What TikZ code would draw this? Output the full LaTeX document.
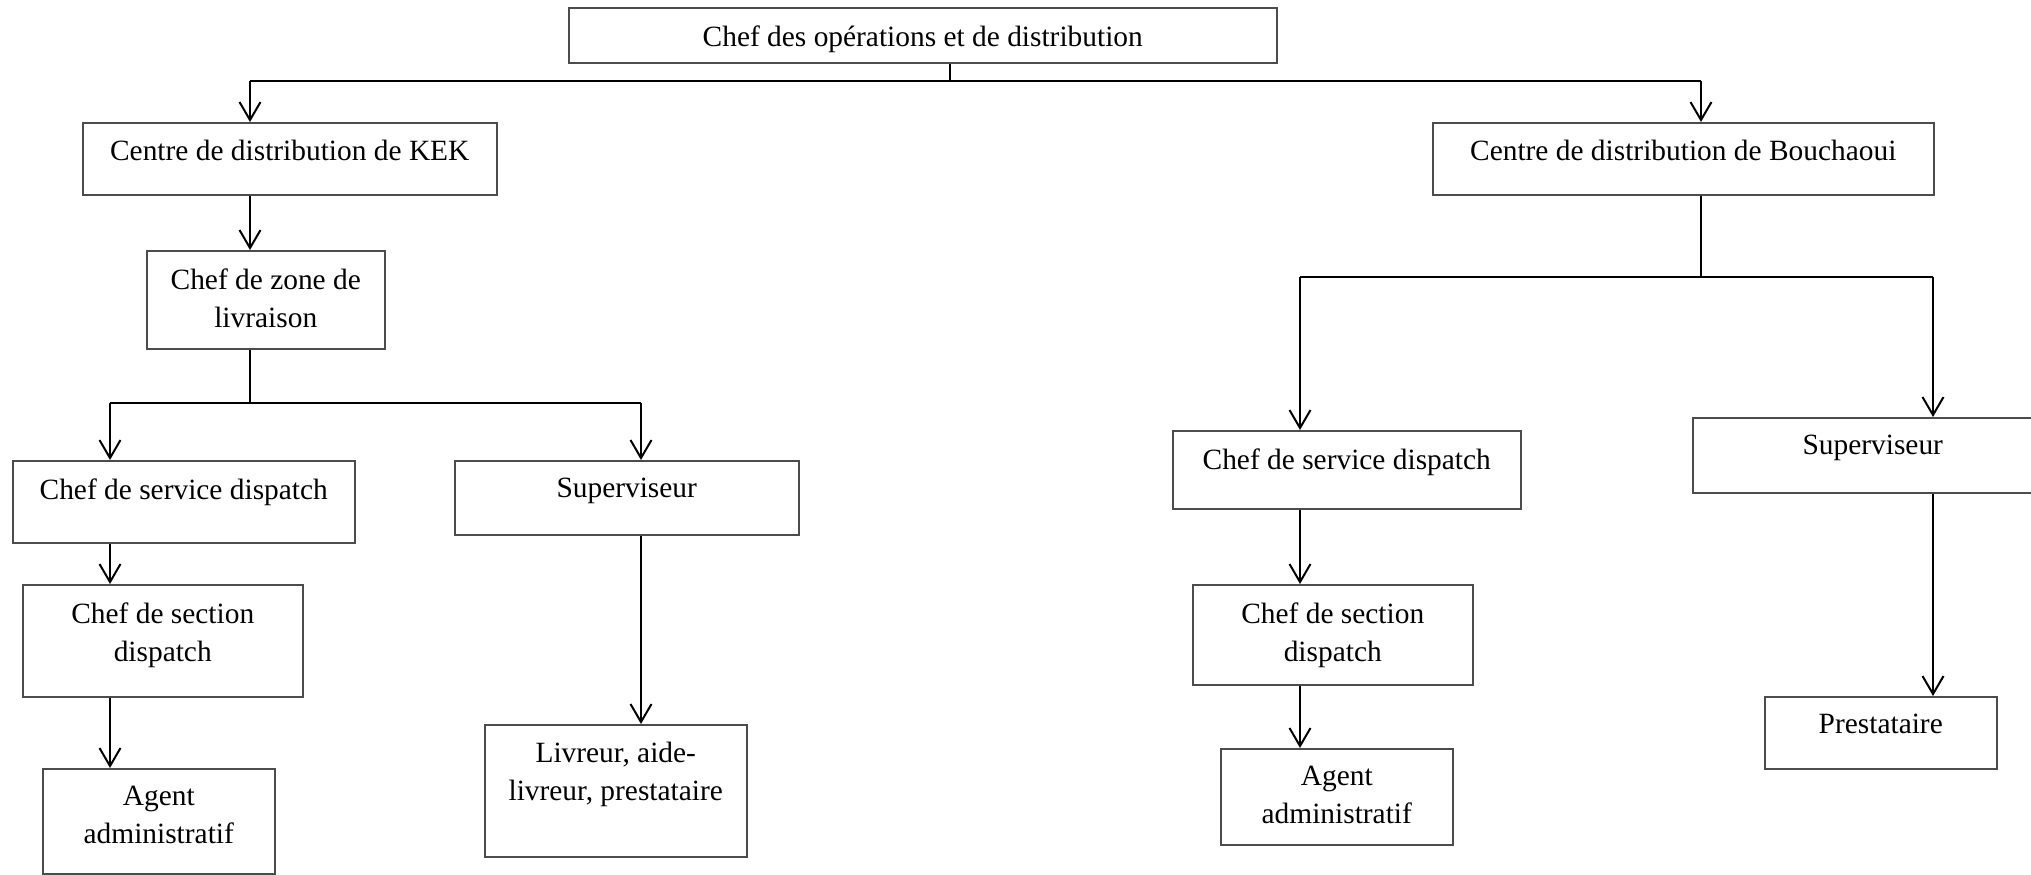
\documentclass[tikz,border=0pt]{standalone}
\usepackage{fontspec}
\setmainfont{Liberation Serif}
\usetikzlibrary{arrows.meta}
\begin{document}
\begin{tikzpicture}[x=0.5pt,y=-0.5pt,
  box/.style={draw=black!70,line width=0.75pt,rectangle,inner sep=0pt,anchor=north west},
  txt/.style={font=\fontsize{14.7}{19}\selectfont,align=center,inner sep=0pt,anchor=north,yshift=-9pt},
  link/.style={draw=black,line width=0.55pt},
  bar/.style={draw=black,line width=0.9pt},
  arr/.style={draw=black,line width=1pt,-{Straight Barb[length=9pt,width=10.5pt,line width=1pt]}}]
\useasboundingbox (0,0) rectangle (2031,874);

% boxes: top-left corner, width and height in pixel units
\newcommand{\orgbox}[6]{%
  \node[box,minimum width=#3*0.5pt,minimum height=#4*0.5pt] (#5) at (#1,#2) {};
  \node[txt] (#5-t) at (#5.north) {#6};}

\orgbox{568}{7}{708}{55}{top}{Chef des opérations et de distribution}
\orgbox{82}{122}{414}{72}{kek}{Centre de distribution de KEK}
\orgbox{146}{250}{238}{98}{zone}{Chef de zone de\\livraison}
\orgbox{12}{460}{342}{82}{csdA}{Chef de service dispatch}
\orgbox{454}{460}{344}{74}{supA}{Superviseur}
\orgbox{22}{584}{280}{112}{secA}{Chef de section\\dispatch}
\orgbox{42}{768}{232}{105}{agA}{Agent\\administratif}
\orgbox{484}{724}{262}{132}{liv}{Livreur, aide-\\livreur, prestataire}
\orgbox{1432}{122}{501}{72}{bou}{Centre de distribution de Bouchaoui}
\orgbox{1172}{430}{348}{78}{csdB}{Chef de service dispatch}
\orgbox{1692}{417}{360}{75}{supB}{Superviseur}
\orgbox{1192}{584}{280}{100}{secB}{Chef de section\\dispatch}
\orgbox{1220}{748}{232}{96}{agB}{Agent\\administratif}
\orgbox{1764}{696}{232}{72}{pre}{Prestataire}

% junction points and branch columns
\coordinate (j0) at (950,81);
\coordinate (cL) at (250,0);
\coordinate (cR) at (1701,0);
\coordinate (j1) at (250,403);
\coordinate (cA) at (110,0);
\coordinate (cB) at (641,0);
\coordinate (j2) at (1701,277);
\coordinate (cC) at (1300,0);
\coordinate (cD) at (1933,0);

% top level
\draw[link] (top.south -| j0) -- (j0);
\draw[bar] (j0 -| cL) -- (j0 -| cR);
\draw[arr] (j0 -| cL) -- (kek.north -| cL);
\draw[arr] (j0 -| cR) -- (bou.north -| cR);

% KEK branch
\draw[arr] (kek.south -| cL) -- (zone.north -| cL);
\draw[link] (zone.south -| cL) -- (j1);
\draw[bar] (j1 -| cA) -- (j1 -| cB);
\draw[arr] (j1 -| cA) -- (csdA.north -| cA);
\draw[arr] (j1 -| cB) -- (supA.north -| cB);
\draw[arr] (csdA.south -| cA) -- (secA.north -| cA);
\draw[arr] (secA.south -| cA) -- (agA.north -| cA);
\draw[arr] (supA.south -| cB) -- (liv.north -| cB);

% Bouchaoui branch
\draw[link] (bou.south -| cR) -- (j2);
\draw[bar] (j2 -| cC) -- (j2 -| cD);
\draw[arr] (j2 -| cC) -- (csdB.north -| cC);
\draw[arr] (j2 -| cD) -- (supB.north -| cD);
\draw[arr] (csdB.south -| cC) -- (secB.north -| cC);
\draw[arr] (secB.south -| cC) -- (agB.north -| cC);
\draw[arr] (supB.south -| cD) -- (pre.north -| cD);
\end{tikzpicture}
\end{document}
